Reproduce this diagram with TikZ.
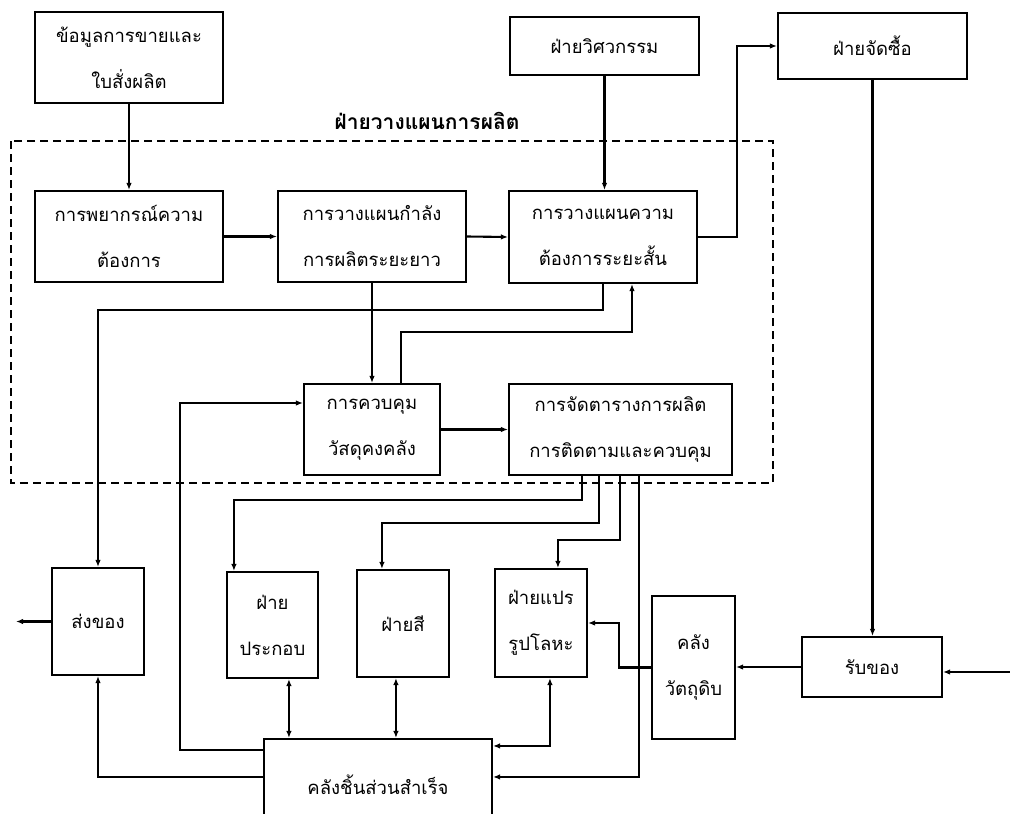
\documentclass[tikz,border=0pt]{standalone}
\usepackage{fontspec}
\setmainfont[Script=Thai]{Loma}
\usetikzlibrary{arrows.meta,calc}
\begin{document}
\begin{tikzpicture}[x=1pt,y=-1pt,
  box/.style={draw,line width=2.1pt,rectangle,inner sep=0pt,align=center,
    font=\fontsize{18.5}{46}\selectfont},
  arr/.style={line width=2.1pt,-{Latex[length=7pt,width=5.5pt]}},
  darr/.style={line width=2.1pt,{Latex[length=7pt,width=5.5pt]}-{Latex[length=7pt,width=5.5pt]}},
  frame/.style={line width=1.8pt,dash pattern=on 8pt off 5pt}]
\useasboundingbox (0,0) rectangle (1010,814);
\clip (0,0) rectangle (1010,814);
% dashed frame
\draw[frame] (11,141) rectangle (773,483);
\node[font=\fontsize{21}{24}\selectfont\bfseries] (title) at (427,121) {ฝ่ายวางแผนการผลิต};
% boxes
\node[box,minimum width=188pt,minimum height=91pt] (sales) at (129,57.5) {ข้อมูลการขายและ\\ใบสั่งผลิต};
\node[box,minimum width=188pt,minimum height=91pt] (fore) at (129,236.5) {การพยากรณ์ความ\\ต้องการ};
\node[box,minimum width=188pt,minimum height=91pt] (cap) at (372,236.5) {การวางแผนกำลัง\\การผลิตระยะยาว};
\node[box,minimum width=188pt,minimum height=92pt] (srt) at (603,237) {การวางแผนความ\\ต้องการระยะสั้น};
\node[box,minimum width=189pt,minimum height=58pt] (eng) at (604.5,46) {ฝ่ายวิศวกรรม};
\node[box,minimum width=189pt,minimum height=66pt] (pur) at (872.5,46) {ฝ่ายจัดซื้อ};
\node[box,minimum width=136pt,minimum height=91pt] (inv) at (372,429.5) {การควบคุม\\วัสดุคงคลัง};
\node[box,minimum width=223pt,minimum height=91pt] (sched) at (620.5,429.5) {การจัดตารางการผลิต\\การติดตามและควบคุม};
\node[box,minimum width=92pt,minimum height=107pt] (ship) at (98,621.5) {ส่งของ};
\node[box,minimum width=91pt,minimum height=106pt] (asm) at (272.5,625) {ฝ่าย\\ประกอบ};
\node[box,minimum width=92pt,minimum height=107pt] (paint) at (403,623.5) {ฝ่ายสี};
\node[box,minimum width=92pt,minimum height=108pt] (metal) at (541,623) {ฝ่ายแปร\\รูปโลหะ};
\node[box,minimum width=83pt,minimum height=143pt] (raw) at (693.5,667.5) {คลัง\\วัตถุดิบ};
\node[box,minimum width=140pt,minimum height=60pt] (recv) at (872,667) {รับของ};
\node[box,minimum width=228pt,minimum height=91pt] (store) at (378,784.5) {คลังชิ้นส่วนสำเร็จ};
% free ends
\coordinate (inR) at (1012,672);
\coordinate (outL) at (16,621.5);
\coordinate (kx) at (180,403);
% connectors
\draw[arr] (sales.south) -- (fore.north);
\draw[arr] (fore.east) -- (cap.west);
\draw[arr] (cap.east) -- (srt.west);
\draw[arr] (eng.south) -- (eng.south |- srt.north);
\draw[arr] (srt.east) -- ++(39,0) |- (pur.west);
\draw[arr] (pur.south) -- (pur.south |- recv.north);
\draw[arr] (srt.south) -- ++(0,26) -| (ship.north);
\draw[arr] (cap.south) -- (inv.north);
\draw[arr] ($(inv.north)+(29,0)$) -- ++(0,-51) -| ($(srt.south)+(29,0)$);
\draw[arr] (inv.east) -- (sched.west);
\draw[arr] ($(store.north west)+(0,12)$) -| (kx) -- (kx -| inv.west);
\draw[arr] ($(sched.south west)+(74,0)$) -- ++(0,24) -| ($(asm.north west)+(8,0)$);
\draw[arr] ($(sched.south west)+(91,0)$) -- ++(0,47) -| ($(paint.north west)+(26,0)$);
\draw[arr] ($(sched.south west)+(112,0)$) -- ++(0,64) -| ($(metal.north west)+(64,0)$);
\draw[arr] ($(sched.south west)+(131,0)$) |- ($(store.north east)+(0,39)$);
\draw[darr] ($(asm.south west)+(63,0)$) -- ($(store.north west)+(26,0)$);
\draw[darr] ($(paint.south west)+(40,0)$) -- ($(store.north west)+(133,0)$);
\draw[darr] ($(metal.south west)+(56,0)$) |- ($(store.north east)+(0,8)$);
\draw[arr] (raw.west) -- ++(-32,0) |- (metal.east);
\draw[arr] (recv.west) -- (recv.west -| raw.east);
\draw[arr] (inR) -- (inR -| recv.east);
\draw[arr] (ship.west) -- (outL);
\draw[arr] ($(store.north west)+(0,39)$) -| (ship.south);
\end{tikzpicture}
\end{document}
